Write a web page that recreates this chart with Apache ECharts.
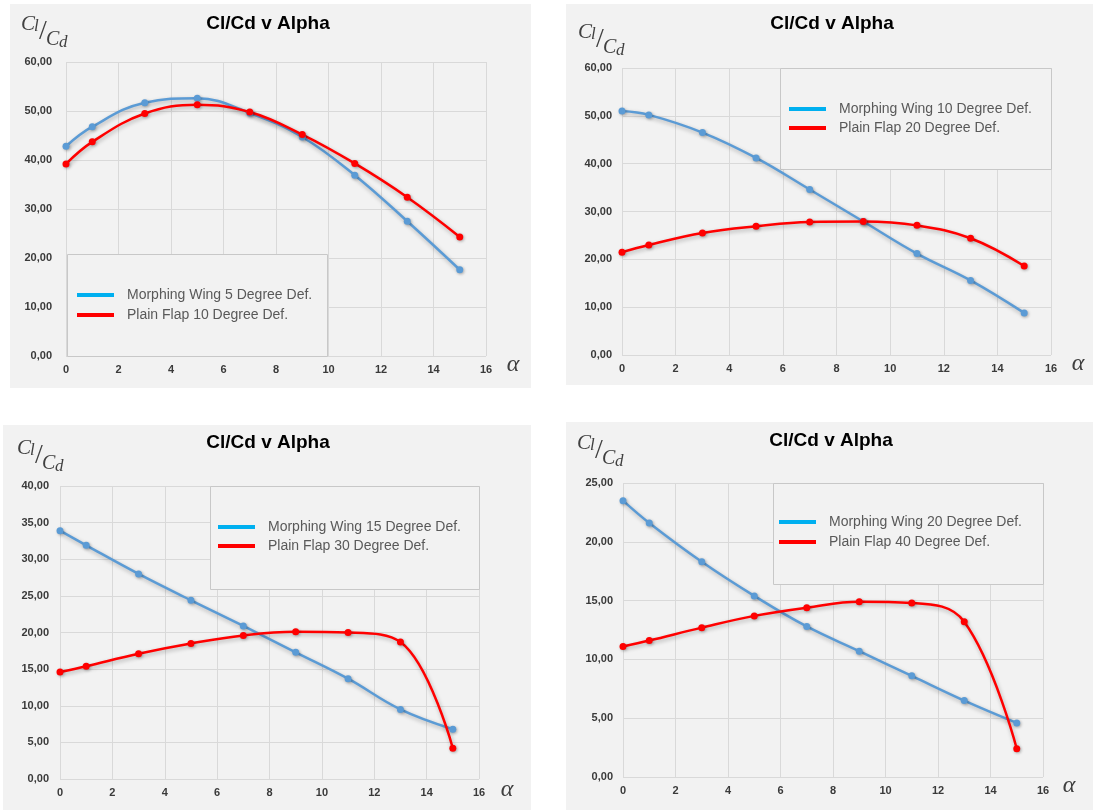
<!DOCTYPE html>
<html>
<head>
<meta charset="utf-8">
<script src="https://cdn.jsdelivr.net/npm/echarts@6/dist/echarts.min.js"></script>
<style>
html,body{margin:0;padding:0;background:#fff;}
#c{width:1093px;height:812px;}
</style>
</head>
<body>
<div id="c"></div>
<script>
// ---- data ----
const alpha = [0, 1, 3, 5, 7, 9, 11, 13, 15];
const morph5  = [42.8, 46.8, 51.7, 52.6, 49.6, 44.7, 36.9, 27.5, 17.6];
const flap10  = [39.2, 43.7, 49.5, 51.3, 49.8, 45.2, 39.3, 32.4, 24.3];
const morph10 = [51.0, 50.2, 46.5, 41.2, 34.6, 27.9, 21.2, 15.6, 8.8];
const flap20  = [21.5, 23.0, 25.5, 26.9, 27.8, 27.9, 27.1, 24.4, 18.6];
const morph15 = [33.9, 31.9, 28.0, 24.4, 20.9, 17.3, 13.7, 9.5, 6.8];
const flap30  = [14.6, 15.4, 17.1, 18.5, 19.6, 20.1, 20.0, 18.7, 4.2];
const morph20 = [23.5, 21.6, 18.3, 15.4, 12.8, 10.7, 8.6, 6.5, 4.6];
const flap40  = [11.1, 11.6, 12.7, 13.7, 14.4, 14.9, 14.8, 13.2, 2.4];

const morphNames = ['Morphing Wing 5 Degree Def.', 'Morphing Wing 10 Degree Def.', 'Morphing Wing 15 Degree Def.', 'Morphing Wing 20 Degree Def.'];
const flapNames  = ['Plain Flap 10 Degree Def.', 'Plain Flap 20 Degree Def.', 'Plain Flap 30 Degree Def.', 'Plain Flap 40 Degree Def.'];
const chartTitle = 'Cl/Cd v Alpha';
const xMin = 0, xMax = 16, xStep = 2;
const yMax = [60, 60, 40, 25];
const yStep = [10, 10, 5, 5];

const morphSets = [morph5, morph10, morph15, morph20];
const flapSets  = [flap10, flap20, flap30, flap40];

// ---- layout (pixels) ----
const panels = [
  {bg:[10,4,521,384],   grid:{left:66, top:62, width:420, height:294}, title:[268,24], label:[21,24],  alpha:[513,365], lab:14,
   box:[67,254,260,102], leg:[77,288], gap:6},
  {bg:[566,4,527,381],  grid:{left:622,top:68, width:429, height:287}, title:[832,24], label:[578,32], alpha:[1078,364], lab:10,
   box:[780,68,271,101], leg:[789,102], gap:5},
  {bg:[3,425,528,385],  grid:{left:60, top:486,width:419, height:293}, title:[268,443], label:[17,448], alpha:[507,790], lab:11,
   box:[210,486,269,103], leg:[218,520], gap:5},
  {bg:[566,422,527,388],grid:{left:623,top:483,width:420, height:294}, title:[831,441], label:[577,443], alpha:[1069,786], lab:10,
   box:[773,483,270,101], leg:[779,515], gap:6}
];

const BG = '#f2f2f2';
const BLUE = '#5b9bd5';
const RED = '#ff0000';
const AXIS_TXT = '#3a3a3a';
const sans = 'Liberation Sans, Arial, sans-serif';
const serif = 'Liberation Serif, DejaVu Serif, serif';

const fmtY = v => v.toFixed(2).replace('.', ',');

const grids = [], xAxes = [], yAxes = [], series = [], legends = [], graphics = [];

panels.forEach((p, i) => {
  grids.push(Object.assign({containLabel:false}, p.grid));
  xAxes.push({
    type:'value', gridIndex:i, min:xMin, max:xMax, interval:xStep,
    axisLine:{show:false}, axisTick:{show:false},
    axisLabel:{color:AXIS_TXT, fontWeight:'bold', fontSize:11, fontFamily:sans, margin:8},
    splitLine:{show:true, lineStyle:{color:'#d9d9d9', width:1}}
  });
  yAxes.push({
    type:'value', gridIndex:i, min:0, max:yMax[i], interval:yStep[i],
    axisLine:{show:false}, axisTick:{show:false},
    axisLabel:{color:AXIS_TXT, fontWeight:'bold', fontSize:11, fontFamily:sans, margin:p.lab, formatter:fmtY},
    splitLine:{show:true, lineStyle:{color:'#d9d9d9', width:1}}
  });
  const mk = (name, vals, color) => ({
    type:'line', name:name, xAxisIndex:i, yAxisIndex:i, smooth:0.4,
    data: alpha.map((a, j) => [a, vals[j]]),
    symbol:'circle', symbolSize:7, showSymbol:true,
    lineStyle:{color:color, width:2.5, shadowColor:'rgba(0,0,0,0.28)', shadowBlur:4, shadowOffsetX:1, shadowOffsetY:2},
    itemStyle:{color:color, shadowColor:'rgba(0,0,0,0.28)', shadowBlur:3, shadowOffsetX:1, shadowOffsetY:1},
    z:3
  });
  series.push(mk(morphNames[i], morphSets[i], BLUE));
  series.push(mk(flapNames[i], flapSets[i], RED));

  legends.push({
    orient:'vertical', left:p.leg[0], top:p.leg[1], padding:0, itemGap:p.gap,
    icon:'rect', itemWidth:37, itemHeight:4, selectedMode:false,
    textStyle:{fontSize:14, color:'#595959', fontFamily:sans, lineHeight:14, padding:[0,0,0,8]},
    data:[
      {name:morphNames[i], itemStyle:{color:'#00b0f0', borderWidth:0, shadowBlur:0}},
      {name:flapNames[i], itemStyle:{color:RED, borderWidth:0, shadowBlur:0}}
    ]
  });

  // panel background
  graphics.push({type:'rect', z:-10, silent:true,
    shape:{x:p.bg[0], y:p.bg[1], width:p.bg[2], height:p.bg[3]}, style:{fill:BG}});
  // legend box
  graphics.push({type:'rect', z:1, silent:true,
    shape:{x:p.box[0]+0.5, y:p.box[1]+0.5, width:p.box[2], height:p.box[3]},
    style:{fill:BG, stroke:'#c8c8c8', lineWidth:1}});
  // title
  graphics.push({type:'text', z:5, silent:true, x:p.title[0], y:p.title[1],
    style:{text:chartTitle, fill:'#000', font:'bold 19px ' + sans, textAlign:'center', textVerticalAlign:'middle'}});
  // Cl/Cd label
  const lx = p.label[0], ly = p.label[1];
  const part = (t, dx, dy, size, italic) => ({type:'text', z:5, silent:true, x:lx+dx, y:ly+dy,
    style:{text:t, fill:'#404040', font:(italic?'italic ':'') + size + 'px ' + serif, textAlign:'left', textVerticalAlign:'middle'}});
  graphics.push(part('C', 0, 0, 21, true));
  graphics.push(part('l', 13, 3, 17, true));
  graphics.push(part('/', 18, 8, 28, false));
  graphics.push(part('C', 25, 16, 20, true));
  graphics.push(part('d', 38, 19, 17, true));
  // alpha axis label
  graphics.push({type:'text', z:5, silent:true, x:p.alpha[0], y:p.alpha[1],
    style:{text:'α', fill:'#404040', font:'italic 24px ' + serif, textAlign:'center', textVerticalAlign:'middle'}});
});

const chart = echarts.init(document.getElementById('c'), null, {renderer:'canvas'});
chart.setOption({
  animation:false,
  backgroundColor:'#ffffff',
  grid:grids, xAxis:xAxes, yAxis:yAxes, series:series, legend:legends,
  graphic:{elements:graphics}
});
</script>
</body>
</html>
